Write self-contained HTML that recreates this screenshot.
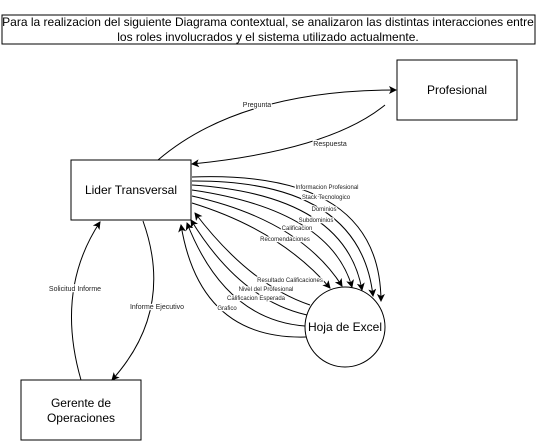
<!DOCTYPE html>
<html><head><meta charset="utf-8"><style>
body{margin:0;background:#fff;}
svg{display:block;font-family:"Liberation Sans",sans-serif;}
.l{font-size:6px;fill:#222;text-anchor:middle;stroke:#fff;stroke-width:2.5px;paint-order:stroke;stroke-linejoin:round;}
.m{font-size:7px;}
.b{font-size:12px;fill:#000;text-anchor:middle;}
path.c{fill:none;stroke:#000;stroke-width:1;marker-end:url(#a);}
</style></head><body>
<svg width="537" height="441" viewBox="0 0 537 441">
<defs><marker id="a" markerWidth="8" markerHeight="8" refX="7" refY="4" orient="auto" markerUnits="userSpaceOnUse"><path d="M0,0 L8,4 L0,8 L2,4 z" fill="#000"/></marker></defs>
<rect x="2" y="15" width="533" height="29" fill="#fff" stroke="#000"/>
<text class="b" x="268" y="26">Para la realizacion del siguiente Diagrama contextual, se analizaron las distintas interacciones entre</text>
<text class="b" x="268" y="41">los roles involucrados y el sistema utilizado actualmente.</text>

<rect x="397" y="60" width="120" height="60" fill="#fff" stroke="#000"/>
<text class="b" x="457" y="94">Profesional</text>
<rect x="71" y="160" width="120" height="60" fill="#fff" stroke="#000"/>
<text class="b" x="131" y="194">Lider Transversal</text>
<rect x="21" y="380" width="120" height="60" fill="#fff" stroke="#000"/>
<text class="b" x="81" y="407">Gerente de</text>
<text class="b" x="81" y="422">Operaciones</text>

<path class="c" d="M158,160 Q240,90 396,90"/>
<path class="c" d="M385,105 Q330,150 192,164"/>
<path class="c" d="M81,380 Q55,290 100,222"/>
<path class="c" d="M143,221 Q175,310 112,380"/>

<path class="c" d="M192,177 Q380,170 381,301"/>
<path class="c" d="M192,181 Q360,180 373,296"/>
<path class="c" d="M192,185 Q345,195 362,290"/>
<path class="c" d="M192,190 Q330,210 352,287"/>
<path class="c" d="M192,196 Q300,220 342,286"/>
<path class="c" d="M192,203 Q280,230 330,288"/>

<path class="c" d="M310,305 Q250,285 195,213"/>
<path class="c" d="M307,315 Q240,300 191,220"/>
<path class="c" d="M305,326 Q225,320 187,223"/>
<path class="c" d="M306,337 Q200,340 181,225"/>

<circle cx="345" cy="327" r="40" fill="#fff" stroke="#000"/>
<text class="b" x="345" y="331">Hoja de Excel</text>

<text class="l m" x="257" y="107">Pregunta</text>
<text class="l m" x="330" y="146">Respuesta</text>
<text class="l m" x="75" y="291">Solicitud Informe</text>
<text class="l m" x="157" y="309">Informe Ejecutivo</text>
<text class="l" x="327" y="189">Informacion Profesional</text>
<text class="l" x="326" y="199">Stack Tecnologico</text>
<text class="l" x="324" y="211">Dominios</text>
<text class="l" x="316" y="222">Subdominios</text>
<text class="l" x="297" y="230">Calificacion</text>
<text class="l" x="285" y="241">Recomendaciones</text>
<text class="l" x="290" y="282">Resultado Calificaciones</text>
<text class="l" x="266" y="291">Nivel del Profesional</text>
<text class="l" x="256" y="300">Calificacion Esperada</text>
<text class="l" x="227" y="310">Grafico</text>
</svg>
</body></html>
